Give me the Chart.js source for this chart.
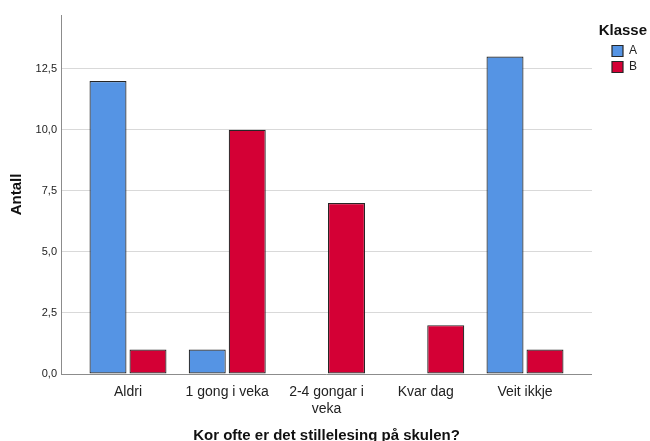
<!DOCTYPE html>
<html>
<head>
<meta charset="utf-8">
<script src="https://cdn.jsdelivr.net/npm/chart.js@4/dist/chart.umd.min.js"></script>
<style>
  html, body { margin: 0; padding: 0; background: #fff; }
  canvas { display: block; }
</style>
</head>
<body>
<canvas id="chart" width="650" height="441"></canvas>
<script>
// --- Data ---
const categories = ['Aldri', '1 gong i veka', ['2-4 gongar i', 'veka'], 'Kvar dag', 'Veit ikkje'];
const seriesA = [12, 1, 0, 0, 13];
const seriesB = [1, 10, 7, 2, 1];
const yTicks = [0, 2.5, 5, 7.5, 10, 12.5];

Chart.defaults.font.family = "'Liberation Sans', Arial, sans-serif";
Chart.defaults.color = '#222';

const toPoints = arr => arr.map((v, i) => ({ x: i, y: v }));

// legend clips to its own box; the title is wider than the items, so draw it unclipped
const legendNoClip = {
    id: 'legendNoClip',
    beforeDraw(chart) {
        const lg = chart.legend;
        if (lg && !lg._noClip) {
            lg._noClip = true;
            lg.draw = function () {
                if (this.options.display) this._draw();
            };
        }
    }
};

const ctx = document.getElementById('chart').getContext('2d');
new Chart(ctx, {
    type: 'bar',
    data: {
        datasets: [
            {
                label: 'A',
                data: toPoints(seriesA),
                backgroundColor: '#5594e4',
                borderColor: '#262626',
                borderWidth: 1.2,
                borderSkipped: false,
                categoryPercentage: 0.806,
                barPercentage: 0.925
            },
            {
                label: 'B',
                data: toPoints(seriesB),
                backgroundColor: '#d40035',
                borderColor: '#262626',
                borderWidth: 1.2,
                borderSkipped: false,
                categoryPercentage: 0.806,
                barPercentage: 0.925
            }
        ]
    },
    options: {
        responsive: false,
        animation: false,
        devicePixelRatio: 1,
        layout: { padding: { top: 15, right: 3, bottom: 0, left: 0 } },
        plugins: {
            tooltip: { enabled: false },
            legend: {
                position: 'right',
                align: 'start',
                title: {
                    display: true,
                    text: 'Klasse',
                    position: 'end',
                    font: { size: 15, weight: 'bold' },
                    color: '#111',
                    padding: { top: 8, bottom: 0 }
                },
                labels: { boxWidth: 11, boxHeight: 11, padding: 4, font: { size: 12 }, color: '#222' }
            }
        },
        scales: {
            x: {
                type: 'linear',
                offset: false,
                min: -0.675,
                max: 4.675,
                afterBuildTicks: s => { s.ticks = categories.map((c, i) => ({ value: i })); },
                afterFit: s => { s.height = 67; },
                ticks: {
                    callback: v => categories[v],
                    autoSkip: false,
                    maxRotation: 0,
                    font: { size: 14 },
                    padding: 2
                },
                grid: { display: false },
                border: { color: '#8c8c8c' },
                title: {
                    display: true,
                    text: 'Kor ofte er det stillelesing på skulen?',
                    font: { size: 15, weight: 'bold' },
                    color: '#111',
                    padding: { top: 0, bottom: -4 }
                }
            },
            y: {
                min: 0,
                max: 14.7,
                afterBuildTicks: s => { s.ticks = yTicks.map(v => ({ value: v })); },
                afterFit: s => { s.width = 61; },
                ticks: {
                    callback: v => v.toFixed(1).replace('.', ','),
                    font: { size: 11 },
                    padding: 4
                },
                grid: { color: '#d9d9d9', drawTicks: false },
                border: { color: '#8c8c8c' },
                title: {
                    display: true,
                    text: 'Antall',
                    font: { size: 15, weight: 'bold' },
                    color: '#111',
                    padding: { top: 8, bottom: 0 }
                }
            },
            gap: {
                position: 'right',
                display: true,
                afterFit: s => { s.width = 16; },
                ticks: { display: false },
                grid: { display: false },
                border: { display: false }
            }
        }
    },
    plugins: [legendNoClip]
});
</script>
</body>
</html>
